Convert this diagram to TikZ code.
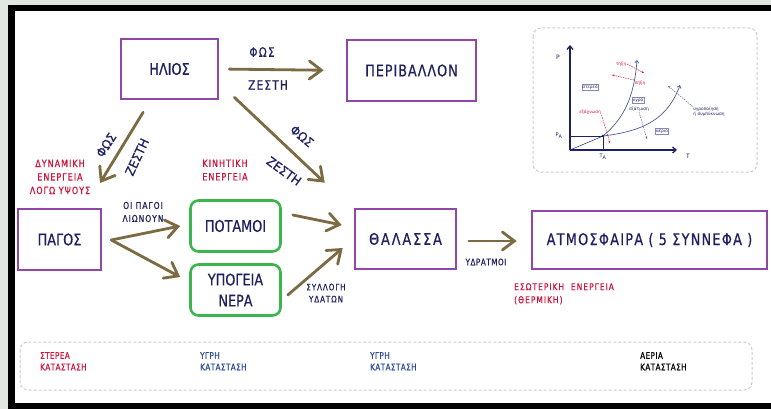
\documentclass[tikz,border=0pt]{standalone}
\usepackage{fontspec}
\setmainfont{DejaVu Sans}
\newfontfamily\hand[FakeStretch=0.8,FakeBold=0.6]{DejaVu Sans}
\newfontfamily\handw[FakeStretch=0.95,FakeBold=0.6]{DejaVu Sans}
\usetikzlibrary{arrows.meta,calc}
\definecolor{bg}{HTML}{E1E8E1}
\definecolor{purp}{HTML}{9147A6}
\definecolor{grn}{HTML}{3DB54E}
\definecolor{brn}{HTML}{7B6A42}
\definecolor{ink}{HTML}{1E2160}
\definecolor{redt}{HTML}{D0143C}
\definecolor{blut}{HTML}{2E4A9A}
\definecolor{dgray}{HTML}{CDCDCD}
\definecolor{slate}{HTML}{4A5A9A}
\begin{document}
\begin{tikzpicture}[x=1pt,y=-1pt,
 pbox/.style={draw=purp,line width=2.6pt,fill=white,text=ink,inner sep=0pt,
   font=\hand\fontsize{16}{19}\selectfont},
 gbox/.style={draw=grn,line width=2.6pt,rounded corners=8pt,fill=white,text=ink,inner sep=0pt,align=center,
   font=\hand\fontsize{16}{21}\selectfont,minimum width=90pt,minimum height=51pt},
 flow/.style={draw=brn,line width=2.8pt,line cap=round,-{Straight Barb[length=12pt,width=18pt,line cap=round]}},
 arlab/.style={text=ink,inner sep=0pt,font=\hand\fontsize{13}{15}\selectfont\addfontfeature{LetterSpace=10}},
 rotlab/.style={text=ink,inner sep=0pt,font=\handw\fontsize{12.5}{15}\selectfont},
 smlab/.style={text=ink,inner sep=0pt,align=center,font=\hand\fontsize{9.5}{13}\selectfont\addfontfeature{LetterSpace=10}},
 redlab/.style={text=redt,inner sep=0pt,align=center,font=\hand\fontsize{10}{13.5}\selectfont\addfontfeature{LetterSpace=10}},
 botlab/.style={inner sep=0pt,align=left,anchor=north west,font=\hand\fontsize{9}{11.5}\selectfont\addfontfeature{LetterSpace=5}},
 dbox/.style={draw=dgray,line width=1pt,dash pattern=on 3pt off 2pt,rounded corners=8pt},
 gtext/.style={inner sep=0.6pt,font=\fontsize{4.3}{5}\selectfont,text=ink},
 gbx/.style={gtext,draw=slate!70,line width=0.4pt},
 gred/.style={gtext,text=redt},
 rdash/.style={draw=redt,line width=0.5pt,dash pattern=on 1.5pt off 1pt,-{Stealth[length=2.5pt,width=2pt]}},
 kdash/.style={draw=ink!70,line width=0.5pt,dash pattern=on 1.5pt off 1pt,-{Stealth[length=2.5pt,width=2pt]}},
 curve/.style={draw=slate,line width=0.7pt,-{Straight Barb[length=2.5pt,width=4pt]}}
]
% frame
\fill[bg] (0,0) rectangle (771,409);
\fill[black] (8,5) rectangle (771,409);
\fill[white] (15,11) rectangle (771,403);
\useasboundingbox (0,0) rectangle (771,409);

% main boxes
\node[pbox,minimum width=97pt,minimum height=60pt] (helios) at (169.5,69) {ΗΛΙΟΣ};
\node[pbox,minimum width=129pt,minimum height=61pt,font=\hand\fontsize{16}{19}\selectfont\addfontfeature{LetterSpace=6}] (periv) at (411.5,70.5) {ΠΕΡΙΒΑΛΛΟΝ};
\node[pbox,minimum width=83pt,minimum height=61pt] (pagos) at (59.5,239.5) {ΠΑΓΟΣ};
\node[gbox] (potamoi) at (235.5,226) {ΠΟΤΑΜΟΙ};
\node[gbox] (ypogeia) at (235.5,290) {ΥΠΟΓΕΙΑ\\ΝΕΡΑ};
\node[pbox,minimum width=101pt,minimum height=60pt,font=\hand\fontsize{16}{19}\selectfont\addfontfeature{LetterSpace=12}] (thalassa) at (405.5,239) {ΘΑΛΑΣΣΑ};
\node[pbox,minimum width=235pt,minimum height=58pt,font=\hand\fontsize{16}{19}\selectfont\addfontfeature{LetterSpace=8}] (atmo) at (649.5,240) {ΑΤΜΟΣΦΑΙΡΑ ( 5 ΣΥΝΝΕΦΑ )};

% arrows
\draw[flow,shorten <=10pt,shorten >=22pt] (helios.east) -- (periv.west);
\coordinate (e1) at (100,183);
\draw[flow,shorten <=14pt] (helios) -- (e1);
\draw[flow] ($(helios.south east)+(15,-3)$) -- ($(thalassa.north west)+(-29,-25)$);
\draw[flow] ($(pagos.east)+(9,0.5)$) -- ($(potamoi.west)+(-9,0)$);
\draw[flow] ($(pagos.east)+(9,0.5)$) -- ($(ypogeia.west)+(-9,-13)$);
\draw[flow] ($(potamoi.east)+(11,-11)$) -- ($(thalassa.west)+(-12,-14)$);
\draw[flow] ($(ypogeia.east)+(6,5)$) -- ($(thalassa.west)+(-11,9)$);
\draw[flow] ($(thalassa.east)+(11.5,2)$) -- ($(atmo.west)+(-14,1)$);

% arrow labels
\node[arlab] (l1) at (262,52) {ΦΩΣ};
\node[arlab] (l2) at (268,85) {ΖΕΣΤΗ};
\node[rotlab,rotate=57] (l3) at (106,145) {ΦΩΣ};
\node[rotlab,rotate=65] (l4) at (137,157) {ΖΕΣΤΗ};
\node[rotlab,rotate=-40] (l5) at (302,136) {ΦΩΣ};
\node[rotlab,rotate=-36] (l6) at (284,171) {ΖΕΣΤΗ};
\node[smlab] (l7) at (143,212) {ΟΙ ΠΑΓΟΙ\\ΛΙΩΝΟΥΝ};
\node[smlab,font=\hand\fontsize{9}{12}\selectfont\addfontfeature{LetterSpace=10}] (l8) at (326,293) {ΣΥΛΛΟΓΗ\\ΥΔΑΤΩΝ};
\node[smlab,font=\hand\fontsize{9}{12}\selectfont\addfontfeature{LetterSpace=6}] (l9) at (486,262) {ΥΔΡΑΤΜΟΙ};

% red labels
\node[redlab] (r1) at (60,177) {ΔΥΝΑΜΙΚΗ\\ΕΝΕΡΓΕΙΑ\\ΛΟΓΩ ΥΨΟΥΣ};
\node[redlab] (r2) at (225,170) {ΚΙΝΗΤΙΚΗ\\ΕΝΕΡΓΕΙΑ};
\node[redlab,align=left,anchor=north west,font=\hand\fontsize{9.5}{13}\selectfont\addfontfeature{LetterSpace=10}] (r3) at (514,283) {ΕΣΩΤΕΡΙΚΗ \ ΕΝΕΡΓΕΙΑ\\(ΘΕΡΜΙΚΗ)};

% bottom panel
\draw[dbox] (20,342) rectangle (752,390);
\node[botlab,text=redt] (b1) at (40,352) {ΣΤΕΡΕΑ\\ΚΑΤΑΣΤΑΣΗ};
\node[botlab,text=blut] (b2) at (200,352) {ΥΓΡΗ\\ΚΑΤΑΣΤΑΣΗ};
\node[botlab,text=blut] (b3) at (370,352) {ΥΓΡΗ\\ΚΑΤΑΣΤΑΣΗ};
\node[botlab,text=black] (b4) at (640,352) {ΑΕΡΙΑ\\ΚΑΤΑΣΤΑΣΗ};

% phase diagram panel
\draw[dbox] (533,28) rectangle (757,172);
\coordinate (O) at (570,150);
\coordinate (TP) at (603,136);
\coordinate (yt) at (570,45);
\coordinate (xt) at (677,150);
\draw[ink,line width=1.3pt,-{Straight Barb[length=3.5pt,width=6pt]}] (O) -- (yt);
\draw[ink,line width=1.3pt,-{Straight Barb[length=3.5pt,width=6pt]}] (O) -- (xt);
\draw[ink,line width=0.5pt] (570,136) -- (TP) -- (603,150);
\draw[ink,line width=0.5pt] (O) -- (TP);
\coordinate (ft) at (637,60);
\coordinate (vt) at (680,85);
\draw[curve] (TP) .. controls (622,120) and (634,100) .. (ft);
\draw[curve] (TP) .. controls (645,131) and (668,118) .. (vt);
\fill[ink] (TP) circle (1.4pt);
\node[gtext,font=\fontsize{6}{7}\selectfont] (pl) at (558,57) {P};
\node[gtext,font=\fontsize{6}{7}\selectfont] (tl) at (688,156) {T};
\node[gtext,font=\fontsize{5}{6}\selectfont] (pa) at (559,136) {P\textsubscript{A}};
\node[gtext,font=\fontsize{5}{6}\selectfont] (ta) at (603,157) {T\textsubscript{A}};
\node[gbx] (st) at (590,87) {στερεό};
\node[gbx] (yg) at (638,100) {υγρό};
\node[gbx] (ae) at (662,131) {αέριο};
\node[gtext] (ex) at (639,109) {εξάτμιση};
\node[gred] (exa) at (590,112) {εξάχνωση};
\node[gred] (tik) at (621,64) {τήξη};
\node[gred] (pik) at (640,83) {πήξη};
\node[gtext,align=left] (yp) at (709,112) {υγροποίηση\\ή συμπύκνωση};
\coordinate (tika) at (644,73);
\coordinate (pika) at (612,75);
\coordinate (exaa) at (610,143);
\coordinate (exta) at (647,139);
\coordinate (ypa) at (668,86);
\draw[rdash] (tik.east) -- (tika);
\draw[rdash] (pik.north west) -- (pika);
\draw[rdash] (exa.south east) -- (exaa);
\draw[kdash] (ex.south) -- (exta);
\draw[kdash] (yp.north west) -- (ypa);
\end{tikzpicture}
\end{document}
